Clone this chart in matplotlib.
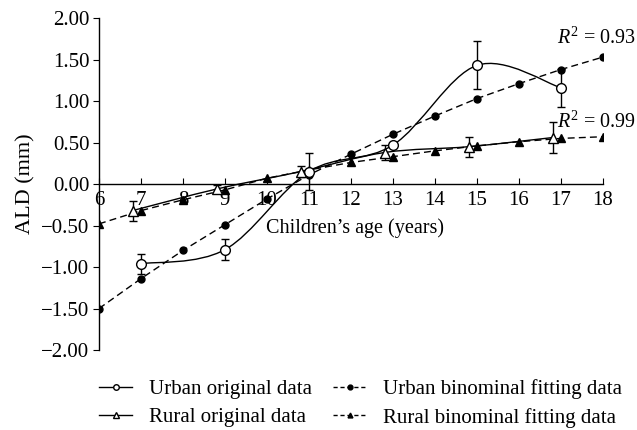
import numpy as np
import matplotlib
matplotlib.use('Agg')
import matplotlib.pyplot as plt
from matplotlib.path import Path
from matplotlib.patches import PathPatch
from matplotlib.lines import Line2D

plt.rcParams['font.family'] = ['Liberation Serif', 'DejaVu Serif']
plt.rcParams['mathtext.fontset'] = 'custom'
plt.rcParams['mathtext.rm'] = 'Liberation Serif'
plt.rcParams['mathtext.it'] = 'Liberation Serif:italic'

# urban original data (open circles, smooth solid line)
urban_age = [7, 9, 11, 13, 15, 17]
urban_ald = [-0.96, -0.79, 0.15, 0.47, 1.43, 1.16]
urban_err = [0.12, 0.13, 0.22, 0.0, 0.29, 0.23]

# rural original data (open triangles, smooth solid line)
rural_age = [6.8, 8.8, 10.8, 12.8, 14.8, 16.8]
rural_ald = [-0.32, -0.06, 0.15, 0.38, 0.45, 0.56]
rural_err = [0.12, 0.05, 0.07, 0.09, 0.12, 0.19]

# binomial fitting data
fit_age = [6, 7, 8, 9, 10, 11, 12, 13, 14, 15, 16, 17, 18]
urban_fit = [-1.50, -1.14, -0.80, -0.49, -0.18, 0.11, 0.36, 0.60, 0.82, 1.03, 1.21, 1.38, 1.53]
rural_fit = [-0.48, -0.32, -0.19, -0.07, 0.07, 0.17, 0.26, 0.33, 0.40, 0.46, 0.51, 0.55, 0.57]

r2_urban = 0.93
r2_rural = 0.99


def smooth_path(xs, ys):
    # Catmull-Rom style bezier segments (like Excel smoothed lines)
    xs = np.asarray(xs, float)
    ys = np.asarray(ys, float)
    n = len(xs)
    verts = [(xs[0], ys[0])]
    codes = [Path.MOVETO]
    for i in range(n - 1):
        x0, y0 = (xs[i - 1], ys[i - 1]) if i > 0 else (xs[i], ys[i])
        x1, y1 = xs[i], ys[i]
        x2, y2 = xs[i + 1], ys[i + 1]
        x3, y3 = (xs[i + 2], ys[i + 2]) if i + 2 < n else (x2, y2)
        c1 = (x1 + (x2 - x0) / 6, y1 + (y2 - y0) / 6)
        c2 = (x2 - (x3 - x1) / 6, y2 - (y3 - y1) / 6)
        verts += [c1, c2, (x2, y2)]
        codes += [Path.CURVE4] * 3
    return Path(verts, codes)


fig = plt.figure(figsize=(6.37, 4.30), dpi=100)
ax = fig.add_axes([0.1554, 0.186, 0.7912, 0.772])

# fitted lines
ax.plot(fit_age, urban_fit, ls=(0, (5, 3)), color='black', lw=1.0,
        marker='o', ms=5, mfc='black', mec='black', zorder=3)
ax.plot(fit_age, rural_fit, ls=(0, (5, 3)), color='black', lw=1.0,
        marker='^', ms=5.5, mfc='black', mec='black', zorder=3)

# smoothed original curves
ax.add_patch(PathPatch(smooth_path(urban_age, urban_ald), fill=False, ec='black', lw=1.0, zorder=2))
ax.add_patch(PathPatch(smooth_path(rural_age, rural_ald), fill=False, ec='black', lw=1.0, zorder=2))

ax.errorbar(urban_age, urban_ald, yerr=urban_err, fmt='o', ms=7, mfc='white', mec='black',
            mew=1.0, ecolor='black', elinewidth=1.0, capsize=3, zorder=4)
ax.errorbar(rural_age, rural_ald, yerr=rural_err, fmt='^', ms=7, mfc='white', mec='black',
            mew=1.0, ecolor='black', elinewidth=1.0, capsize=3, zorder=4)

ax.set_xlim(6, 18)
ax.set_ylim(-2, 2)
ax.spines['top'].set_visible(False)
ax.spines['right'].set_visible(False)
ax.spines['bottom'].set_position(('data', 0))
ax.spines['left'].set_linewidth(1.0)
ax.spines['bottom'].set_linewidth(1.0)

ax.set_xticks(range(6, 19))
ax.set_yticks(np.arange(-2, 2.01, 0.5))
ax.set_yticklabels(['\u22122.00', '\u22121.50', '\u22121.00', '\u22120.50', '0.00',
                    '0.50', '1.00', '1.50', '2.00'])
ax.tick_params(axis='x', direction='in', length=4, pad=5, labelsize=15)
ax.tick_params(axis='y', direction='out', length=4, pad=3, labelsize=15)

ax.text(12.1, -0.53, 'Children\u2019s age (years)', ha='center', va='center', fontsize=14.5)
ax.set_ylabel('ALD (mm)', fontsize=16, labelpad=4)

ax.text(18.78, 1.76, '$R^2$ = %.2f' % r2_urban, ha='right', va='center', fontsize=14.5)
ax.text(18.78, 0.74, '$R^2$ = %.2f' % r2_rural, ha='right', va='center', fontsize=14.5)

handles = [
    Line2D([], [], color='black', lw=1.0, marker='o', ms=4, mfc='white', mec='black'),
    Line2D([], [], color='black', lw=1.0, marker='^', ms=4, mfc='white', mec='black'),
    Line2D([], [], color='black', lw=1.0, ls=(0, (3, 2)), marker='o', ms=3.5, mfc='black'),
    Line2D([], [], color='black', lw=1.0, ls=(0, (3, 2)), marker='^', ms=3.5, mfc='black'),
]
labels = ['Urban original data', 'Rural original data',
          'Urban binominal fitting data', 'Rural binominal fitting data']
fig.legend(handles, labels, ncol=2, loc='lower left', bbox_to_anchor=(0.126, -0.038),
           frameon=False, fontsize=15, handlelength=1.6, handletextpad=0.8,
           columnspacing=1.0, labelspacing=0.4)

fig.savefig('out.png', dpi=100)
